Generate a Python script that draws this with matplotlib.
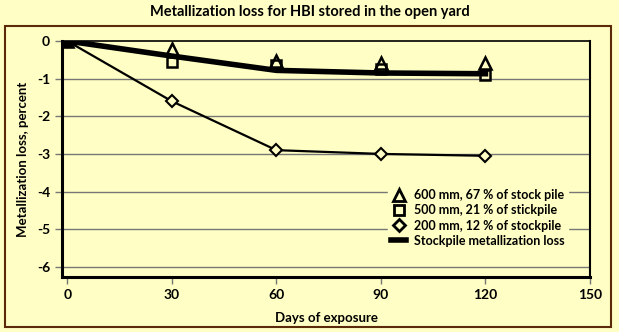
import matplotlib.pyplot as plt
from matplotlib.patches import Rectangle
from matplotlib.lines import Line2D

days = [0, 30, 60, 90, 120]
loss_600 = [0, -0.2, -0.53, -0.58, -0.58]
loss_500 = [0, -0.55, -0.65, -0.75, -0.9]
loss_200 = [0, -1.6, -2.9, -3.0, -3.05]
loss_pile = [0, -0.4, -0.78, -0.85, -0.87]

bg = '#fffec4'
plt.rcParams['font.family'] = ['Lato', 'DejaVu Sans']
plt.rcParams['font.weight'] = 'bold'
plt.rcParams['axes.unicode_minus'] = False

fig = plt.figure(figsize=(6.19, 3.32), dpi=100, facecolor=bg)
ax = fig.add_axes([62/619, 1-277/332, 528/619, 236/332])
ax.set_facecolor(bg)

fig.patches.append(Rectangle((5/619, 1-327/332), 606/619, 301/332, transform=fig.transFigure,
                             fill=False, edgecolor='#5a2a0a', linewidth=1.5))

for y in range(-6, 0):
    ax.axhline(y, color='#777777', linewidth=1.0, zorder=1)

ax.plot(days, loss_pile, color='black', linewidth=4, zorder=3)
ax.plot(days, loss_200, color='black', linewidth=1.6, marker='D', markersize=6,
        markerfacecolor=bg, markeredgecolor='black', markeredgewidth=1.5, zorder=4)
ax.plot(days, loss_600, linestyle='none', marker='^', markersize=8,
        markerfacecolor='none', markeredgecolor='black', markeredgewidth=1.8, zorder=5)
ax.plot(days, loss_500, linestyle='none', marker='s', markersize=7,
        markerfacecolor='none', markeredgecolor='black', markeredgewidth=1.8, zorder=5)
ax.plot([0], [0], linestyle='none', marker='s', markersize=9, color='black', zorder=6)

ax.set_xlim(-1.5, 150)
ax.set_ylim(-6.27, 0)
ax.set_xticks([0, 30, 60, 90, 120, 150])
ax.set_yticks([0, -1, -2, -3, -4, -5, -6])
ax.tick_params(axis='both', labelsize=10, length=5, width=1, color='#777777')
for lab in ax.get_xticklabels() + ax.get_yticklabels():
    lab.set_fontweight('bold')

ax.spines['left'].set_linewidth(2.2)
ax.spines['bottom'].set_linewidth(2.2)
ax.spines['top'].set_linewidth(1.2)
ax.spines['right'].set_linewidth(1.5)

ax.set_xlabel('Days of exposure', fontsize=9.5, fontweight='bold', labelpad=8)
ax.set_ylabel('Metallization loss, percent', fontsize=9.5, fontweight='bold', labelpad=6)
fig.text(0.5, 1-12/332, 'Metallization loss for HBI stored in the open yard',
         ha='center', va='center', fontsize=10.5, fontweight='bold')

mk = dict(linestyle='none', color='black', markerfacecolor='none', markeredgewidth=2)
handles = [Line2D([], [], marker='^', markersize=8, **mk),
           Line2D([], [], marker='s', markersize=7, **mk),
           Line2D([], [], marker='D', markersize=6, **mk),
           Line2D([], [], color='black', linewidth=4)]
labels = ['600 mm, 67 % of stock pile', '500 mm, 21 % of stickpile',
          '200 mm, 12 % of stockpile', 'Stockpile metallization loss']
leg = ax.legend(handles, labels, loc='center left', bbox_to_anchor=(0.605, 0.25), frameon=True,
                facecolor=bg, edgecolor=bg, framealpha=1, fontsize=9,
                handlelength=1.2, handletextpad=0.6, labelspacing=0.25, borderpad=0.3)
leg.set_zorder(7)

fig.savefig('out.png', dpi=100, facecolor=bg)
